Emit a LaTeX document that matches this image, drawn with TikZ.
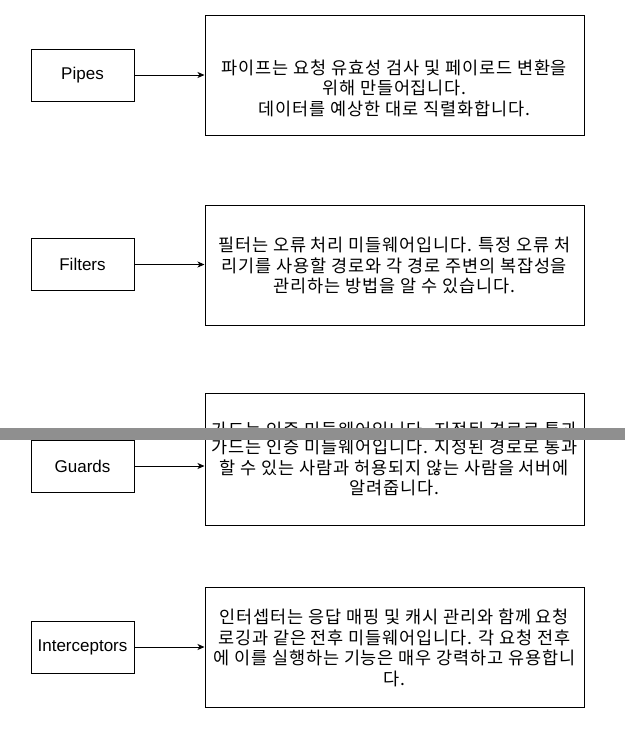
\documentclass[tikz,border=0pt]{standalone}
\usepackage{fontspec}
\setmainfont{Liberation Sans}
\newfontfamily\krfont[LetterSpace=5]{Noto Sans CJK KR}
\usetikzlibrary{arrows.meta}
\definecolor{bargray}{RGB}{143,143,143}
\begin{document}
\begin{tikzpicture}[x=1pt,y=-1pt,
  smallbox/.style={draw=black,line width=1pt,fill=white,minimum width=103pt,minimum height=52pt,inner sep=0pt,font=\fontsize{17}{19}\selectfont},
  bigbox/.style={draw=black,line width=1pt,fill=white,minimum width=379pt,minimum height=120pt,inner sep=0pt},
  desc/.style={align=center,inner sep=0pt,font=\krfont\fontsize{17.5}{20.5}\selectfont},
  conn/.style={draw=black,line width=0.9pt,-{Stealth[length=7pt,width=6pt,inset=2pt]}}]
\useasboundingbox[fill=white] (0,0) rectangle (625,732);

% Pipes
\node[smallbox] (pipes) at (82.5,75) {Pipes};
\node[bigbox] (pipesd) at (394.5,75) {};
\node[desc] (pipest) at (394.5,88) {파이프는 요청 유효성 검사 및 페이로드 변환을\\위해 만들어집니다.\\데이터를 예상한 대로 직렬화합니다.};
\draw[conn] (pipes.east) -- (pipesd.west);

% Filters
\node[smallbox] (filters) at (82.5,264.5) {Filters};
\node[bigbox] (filtersd) at (394.5,265) {};
\node[desc] (filterst) at (394.5,265.5) {필터는 오류 처리 미들웨어입니다. 특정 오류 처\\리기를 사용할 경로와 각 경로 주변의 복잡성을\\관리하는 방법을 알 수 있습니다.};
\draw[conn] (filters.east) -- (filters.east -| filtersd.west);

% Guards
\node[smallbox] (guards) at (82.5,466) {Guards};
\node[bigbox,minimum height=132pt] (guardsd) at (394.5,459) {};
\node[desc] (guardsghost) at (394.5,430) {가드는 인증 미들웨어입니다. 지정된 경로로 통과};
\node[desc] (guardst) at (394.5,467.5) {가드는 인증 미들웨어입니다. 지정된 경로로 통과\\할 수 있는 사람과 허용되지 않는 사람을 서버에\\알려줍니다.};
\draw[conn] (guards.east) -- (guards.east -| guardsd.west);
\fill[bargray] (0,428) rectangle (625,439.5);

% Interceptors
\node[smallbox] (inter) at (82.5,647) {Interceptors};
\node[bigbox] (interd) at (394.5,647) {};
\node[desc] (intert) at (394.5,648) {인터셉터는 응답 매핑 및 캐시 관리와 함께 요청\\로깅과 같은 전후 미들웨어입니다. 각 요청 전후\\에 이를 실행하는 기능은 매우 강력하고 유용합니\\다.};
\draw[conn] (inter.east) -- (interd.west);
\end{tikzpicture}
\end{document}
